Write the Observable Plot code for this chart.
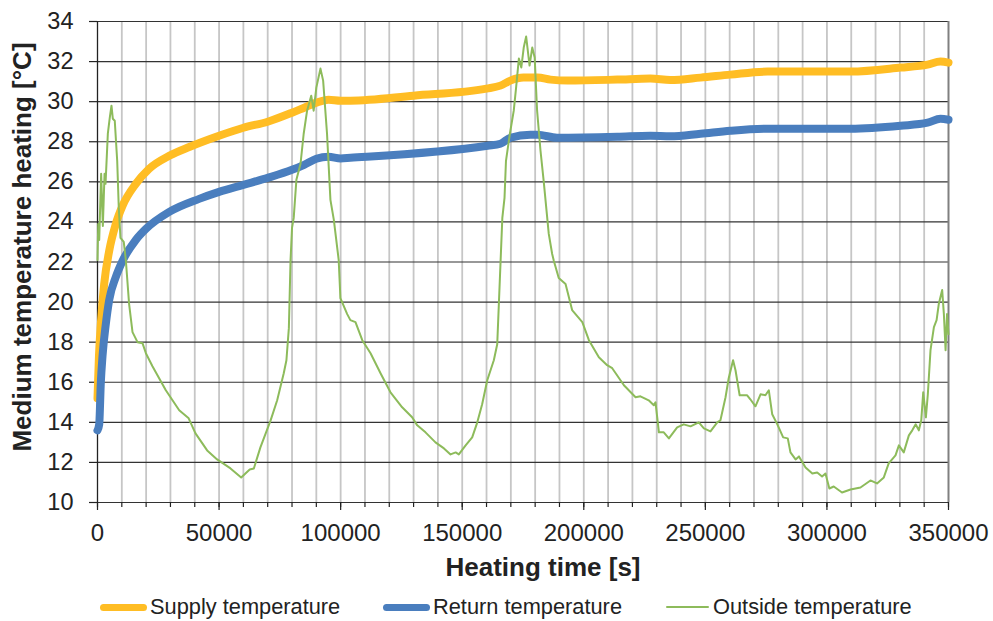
<!DOCTYPE html>
<html>
<head>
<meta charset="utf-8">
<script src="https://cdn.jsdelivr.net/npm/d3@7"></script>
<script src="https://cdn.jsdelivr.net/npm/@observablehq/plot@0.6"></script>
<style>
  body { margin: 0; background: #fff; font-family: "Liberation Sans", Arial, sans-serif; color: #222; }
  #wrap { position: relative; width: 993px; height: 621px; }
  #legend { position: absolute; left: 0; top: 594px; width: 993px; height: 28px; font-size: 21.8px; }
  .sw { position: absolute; top: 13px; border-radius: 4px; }
  .lt { position: absolute; top: 1px; line-height: 24px; white-space: nowrap; }
</style>
</head>
<body>
<div id="wrap"></div>
<script>
// ---- data ----
const seriesNames = ["Supply temperature", "Return temperature", "Outside temperature"];
const seriesColors = ["#FFBD24", "#4A7EBE", "#8DBB5B"];

const supplyT = [0,600,1370,2740,4800,7530,10280,15750,21200,29500,38000,50000,60000,70000,80000,85000,90000,95000,100000,104000,130000,160000,165700,169800,175200,181000,186300,193300,213800,227400,235600,248000,260300,275600,309700,330300,341400,346700,350000];
const supplyV = [15.2,17.3,18.9,20.9,22.55,23.9,24.8,25.9,26.65,27.3,27.75,28.3,28.7,29.0,29.45,29.7,29.95,30.1,30.05,30.05,30.3,30.65,30.8,31.05,31.2,31.2,31.1,31.05,31.1,31.15,31.08,31.2,31.35,31.5,31.5,31.7,31.85,32.0,31.95];

const returnT = [0,700,1370,2060,3420,4800,7530,10280,15750,19900,29500,41800,50000,60000,70000,80000,85000,90000,95000,100000,104000,160400,165700,169800,178000,181000,189000,213800,227400,235600,248000,260300,275600,309700,330300,341400,346700,350000];
const returnV = [13.6,13.9,16.0,17.3,18.9,20.1,21.25,22.05,23.1,23.65,24.5,25.15,25.5,25.85,26.2,26.6,26.85,27.15,27.25,27.17,27.2,27.8,27.9,28.2,28.35,28.35,28.2,28.25,28.3,28.27,28.4,28.55,28.65,28.65,28.8,28.95,29.15,29.1];

const outsideT = [0,300,700,1500,2200,2900,3300,4250,5050,5750,6300,7100,8100,8750,9450,10800,11650,13000,14400,16450,18500,19900,22600,28100,33600,37500,40300,45100,49200,54700,59100,62600,64300,67000,71200,73900,76600,77700,78700,79400,80000,80700,81800,83500,84800,86200,87900,88900,90000,91700,92800,94400,95800,97200,99200,99900,102700,104000,106100,108900,112300,116400,120500,125300,129400,131500,134900,139000,142500,145200,147300,148600,151400,154100,156200,158200,160300,163000,164400,165800,166500,167400,168000,169600,171200,172200,173300,174300,175300,176300,177700,178800,179800,180800,182200,183500,185600,187000,187700,189700,192500,195200,199400,202100,206200,209600,211700,216500,221300,223300,226700,228800,229500,230900,232900,235000,238400,241100,243900,247300,249400,252100,254900,256200,258300,259600,261400,262400,264100,267200,268500,270600,272700,274700,276100,277500,279600,282000,283900,285000,287100,288500,291200,294000,296000,298000,299400,301000,302800,306200,309700,313800,317900,320600,323400,325400,328200,329600,331600,333700,335100,336500,337800,338800,339600,340700,341500,342600,344000,345100,346000,347400,348100,348800,349400,350000];
const outsideV = [22.1,23.9,23.1,26.4,23.8,26.4,25.9,28.4,29.2,29.8,29.15,29.05,27.05,24.7,23.2,23.0,22.1,19.9,18.5,18.0,17.95,17.45,16.8,15.6,14.6,14.2,13.45,12.6,12.15,11.7,11.25,11.65,11.7,12.75,14.1,15.1,16.45,17.1,18.7,22.1,23.7,24.2,26.1,26.9,28.4,29.55,30.3,29.55,30.7,31.65,31.05,28.4,25.1,24.1,22.1,20.2,19.4,19.1,19.0,18.1,17.45,16.45,15.5,14.75,14.25,13.85,13.5,13.0,12.7,12.4,12.5,12.4,12.85,13.25,14.0,14.9,16.1,17.1,17.9,22.1,24.2,25.2,27.05,28.4,29.55,30.75,32.15,31.7,32.7,33.25,31.8,32.7,32.2,29.55,27.55,26.05,23.4,22.4,22.05,21.2,20.9,19.6,19.0,18.1,17.25,16.85,16.7,15.85,15.25,15.3,15.1,14.85,15.0,13.5,13.5,13.2,13.75,13.9,13.8,14.0,13.7,13.55,14.0,14.1,15.25,16.2,17.1,16.6,15.35,15.35,15.15,14.8,15.4,15.35,15.6,14.4,13.9,13.25,13.2,12.5,12.15,12.3,11.75,11.45,11.5,11.3,11.45,10.7,10.8,10.5,10.65,10.75,11.1,10.95,11.25,11.95,12.35,12.85,12.5,13.35,13.6,13.9,13.6,14.1,15.5,14.25,15.4,17.6,18.75,19.1,19.9,20.6,19.4,17.6,19.4,18.4];

const xMajorTicks = [0,50000,100000,150000,200000,250000,300000,350000];
const xMinorTicks = d3.range(0, 350001, 10000);
const yTicks = [10,12,14,16,18,20,22,24,26,28,30,32,34];
const xTitle = "Heating time [s]";
const yTitle = "Medium temperature heating [°C]";

// ---- build tables ----
const supply = supplyT.map((t, i) => ({t, v: supplyV[i]}));
const ret = returnT.map((t, i) => ({t, v: returnV[i]}));
const outside = outsideT.map((t, i) => ({t, v: outsideV[i]}));
const gridX = xMinorTicks.filter(d => d > 0 && d < 350000);

const chart = Plot.plot({
  width: 993,
  height: 594,
  marginLeft: 97,
  marginRight: 45,
  marginTop: 21,
  marginBottom: 92,
  style: {fontFamily: '"Liberation Sans", Arial, sans-serif', color: "#222", background: "#fff", overflow: "visible"},
  x: {domain: [0, 350000]},
  y: {domain: [10, 34]},
  marks: [
    Plot.ruleX(gridX, {stroke: "#c6c6c6", strokeWidth: 1.8}),
    Plot.ruleY(yTicks, {stroke: "#333", strokeWidth: 1.2}),
    Plot.ruleX([350000], {stroke: "#808080", strokeWidth: 2}),
    Plot.ruleX([0], {stroke: "#222", strokeWidth: 1.3}),
    Plot.axisX(xMinorTicks, {tickSize: 5, tickFormat: () => "", label: null, strokeWidth: 1.2}),
    Plot.axisX(xMajorTicks, {tickSize: 8, tickPadding: 13, fontSize: 24, tickFormat: d3.format("d"), label: null, strokeWidth: 1.2}),
    Plot.axisY(yTicks, {tickSize: 8, tickPadding: 16, fontSize: 23.5, label: null, strokeWidth: 1.2}),
    Plot.line(supply, {x: "t", y: "v", stroke: seriesColors[0], strokeWidth: 8, curve: "monotone-x"}),
    Plot.line(ret, {x: "t", y: "v", stroke: seriesColors[1], strokeWidth: 8, curve: "monotone-x"}),
    Plot.line(outside, {x: "t", y: "v", stroke: seriesColors[2], strokeWidth: 2, curve: "linear"}),
    Plot.text([xTitle], {frameAnchor: "bottom", dx: 20, dy: 65, fontSize: 26, fontWeight: "bold", textAnchor: "middle", lineAnchor: "middle", fill: "#222"}),
    Plot.text([yTitle], {frameAnchor: "left", rotate: -90, dx: -75, dy: -15, fontSize: 26, fontWeight: "bold", textAnchor: "middle", lineAnchor: "middle", fill: "#222"})
  ]
});

const wrap = document.getElementById("wrap");
wrap.appendChild(chart);

// ---- legend ----
const legend = document.createElement("div");
legend.id = "legend";
const swatchPos = [[100, 47, 7], [383, 47, 7], [666, 43, 2]];
const textPos = [150, 433, 713];
seriesNames.forEach((name, i) => {
  const sw = document.createElement("div");
  sw.className = "sw";
  sw.style.left = swatchPos[i][0] + "px";
  sw.style.width = swatchPos[i][1] + "px";
  sw.style.height = swatchPos[i][2] + "px";
  sw.style.marginTop = (-swatchPos[i][2] / 2) + "px";
  sw.style.background = seriesColors[i];
  legend.appendChild(sw);
  const tx = document.createElement("div");
  tx.className = "lt";
  tx.style.left = textPos[i] + "px";
  tx.textContent = name;
  legend.appendChild(tx);
});
wrap.appendChild(legend);
</script>
</body>
</html>
